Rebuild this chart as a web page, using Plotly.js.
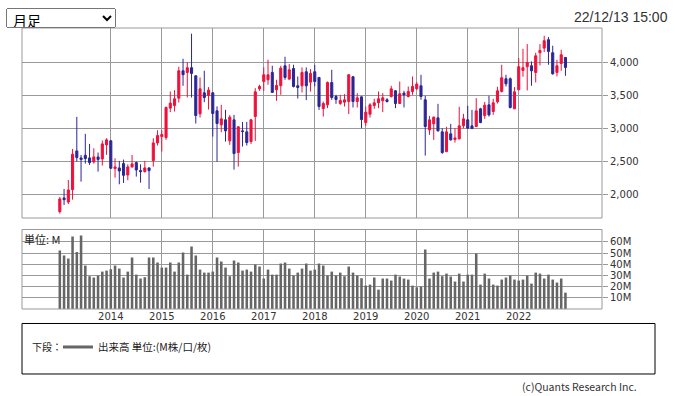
<!DOCTYPE html>
<html><head><meta charset="utf-8">
<script src="https://cdn.plot.ly/plotly-3.0.1.min.js"></script>
<style>
html,body{margin:0;padding:0;background:#fff;}
#wrap{position:relative;width:675px;height:396px;overflow:hidden;}
#chart{position:absolute;left:0;top:0;width:675px;height:396px;}
#period{position:absolute;left:6px;top:8px;width:110px;height:20px;font-size:14px;font-family:'Noto Sans CJK JP',sans-serif;z-index:5;padding:0 0 0 2px;}
</style></head><body>
<div id="wrap"><select id="period"><option>月足</option></select><div id="chart"></div></div>
<script>
// categories: monthly bars 2013-01 .. 2022-12
const months = [];
for (let y = 2013; y <= 2022; y++) for (let m = 1; m <= 12; m++) months.push(y + '-' + String(m).padStart(2, '0'));

const open = [1737,1944,1883,2070,2656,2550,2590,2550,2489,2565,2535,2747,
2808,2388,2398,2464,2292,2414,2479,2358,2343,2399,2510,2777,
2873,2858,3303,3343,3454,3868,3843,3914,3792,3217,3535,3494,
3535,3262,3050,3126,2808,3126,2631,2959,2944,2797,3176,3595,
3706,3732,3843,3580,3641,3944,3742,3903,3641,3641,3853,3696,
3853,3767,3297,3353,3691,3479,3373,3393,3403,3777,3403,3474,
3085,3212,3343,3383,3414,3429,3479,3565,3373,3530,3479,3555,
3595,3641,3429,2974,3065,3156,2944,2646,2914,2828,2838,3035,
3126,3035,3025,3292,3191,3353,3252,3398,3555,3747,3747,3292,
3580,3873,3929,3944,3843,4141,4211,4338,4141,3843,3979,4070];
const high = [1959,2080,2217,2686,3171,2595,2914,2762,2696,2631,2813,2848,
2823,2545,2505,2525,2454,2595,2494,2454,2505,2404,2848,2969,
2969,3328,3555,3575,3929,4050,3999,4429,3800,3767,3868,3621,
3545,3330,3353,3277,3201,3201,3030,3095,3095,3141,3605,3656,
3919,4035,3944,3732,3944,4080,3969,3959,3782,3919,3919,3893,
3959,3767,3403,3706,3883,3504,3504,3515,3817,3790,3530,3480,
3328,3378,3444,3555,3530,3454,3641,3575,3706,3565,3630,3782,
3696,3807,3489,3186,3176,3368,2999,3020,3065,2999,3323,3217,
3338,3277,3454,3308,3398,3489,3444,3626,3959,3807,3767,3621,
4060,4201,4272,4009,4141,4272,4398,4378,4247,4035,4186,4075];
const low = [1707,1838,1853,1919,2494,2191,2464,2444,2464,2343,2434,2595,
2383,2252,2151,2171,2212,2404,2267,2176,2328,2080,2419,2737,
2646,2823,3242,3252,3388,3641,3464,3464,3070,3161,3393,3282,
2873,2494,2939,2797,2747,2373,2419,2722,2737,2762,2808,3565,
3565,3656,3540,3414,3504,3732,3732,3616,3449,3540,3424,3555,
3631,3277,3176,3302,3429,3368,3353,3328,3212,3313,3313,2999,
3035,3161,3292,3302,3242,3388,3464,3302,3368,3313,3464,3504,
3580,3429,2585,2898,2823,2949,2611,2636,2813,2782,2830,2999,
2989,2989,3020,3075,3141,3176,3201,3373,3540,3631,3298,3292,
3580,3777,3570,3641,3691,3949,4151,3959,3808,3782,3868,3792];
const close = [1929,1919,2065,2606,2555,2525,2540,2479,2565,2525,2762,2823,
2394,2414,2353,2287,2414,2459,2368,2343,2399,2358,2777,2888,
2904,3313,3378,3444,3868,3808,3914,3828,3191,3595,3464,3575,
3222,3070,3141,2959,3166,2616,3020,2949,2782,3126,3550,3631,
3807,3807,3540,3646,3908,3767,3883,3631,3616,3843,3641,3828,
3706,3328,3373,3691,3464,3434,3419,3429,3807,3403,3459,3131,
3242,3353,3383,3444,3459,3403,3595,3373,3520,3504,3555,3631,
3666,3479,3025,3126,3166,2959,2631,2944,2823,2853,3035,3141,
2999,2994,3262,3085,3348,3201,3383,3565,3762,3671,3313,3550,
3929,3914,3994,3868,4095,4176,4323,4161,3823,3944,4110,3919];
// volume in millions
const volume = [52.2,47.8,45.1,64.8,51.0,65.7,38.8,29.3,28.1,29.9,33.4,34.3,
35.5,38.8,36.1,28.1,33.4,46.0,30.7,27.2,28.4,46.0,46.0,41.5,
37.0,37.0,41.5,33.4,41.5,50.4,30.7,55.8,47.8,35.2,32.5,32.5,
33.4,46.0,42.4,37.0,29.3,43.3,41.5,34.3,35.2,33.4,39.7,37.9,
27.2,35.2,30.7,30.7,40.6,41.5,36.1,29.9,32.5,36.1,40.6,34.3,
35.2,40.6,38.8,29.9,33.4,29.9,32.5,29.3,37.9,32.5,29.9,27.5,
20.9,21.8,28.1,17.3,27.2,27.2,25.4,30.7,29.0,27.2,26.3,20.9,
19.4,20.0,53.1,27.2,32.5,33.4,29.3,31.6,29.0,24.5,31.6,24.5,
30.7,30.7,49.6,21.8,31.6,27.2,21.8,20.9,26.3,28.1,29.9,26.3,
25.4,26.3,29.9,22.7,32.5,31.6,27.2,30.7,26.3,23.6,27.2,14.6];

const yearLabels = ['2014','2015','2016','2017','2018','2019','2020','2021','2022'];
const priceTicks = [2000, 2500, 3000, 3500, 4000];
const volumeTicks = [10, 20, 30, 40, 50, 60];

const RED = '#ee113b', BLUE = '#2b2696', GRID = '#999999', VOL = '#666666';
const CJK = "'Noto Sans CJK JP', sans-serif";
const TICKF = "'DejaVu Sans', sans-serif";

const xs = months.map((_, i) => i);
const yearPos = yearLabels.map(y => months.indexOf(y + '-01'));

const traces = [
  {type: 'candlestick', x: xs, open: open, high: high, low: low, close: close,
   xaxis: 'x', yaxis: 'y', whiskerwidth: 0, hoverinfo: 'skip', showlegend: false,
   increasing: {line: {color: RED, width: 1}, fillcolor: RED},
   decreasing: {line: {color: BLUE, width: 1}, fillcolor: BLUE}},
  {type: 'bar', x: xs, y: volume, xaxis: 'x', yaxis: 'y2', width: 0.6,
   marker: {color: VOL, line: {width: 0}}, hoverinfo: 'skip', showlegend: false}
];

const mainDom = [0.3238, 1], volDom = [0, 0.2829];
const layout = {
  width: 675, height: 396,
  margin: {l: 22, r: 73, t: 28, b: 87, pad: 0},
  paper_bgcolor: '#ffffff', plot_bgcolor: '#ffffff',
  showlegend: false, hovermode: false,
  font: {family: TICKF, size: 10, color: '#333'},
  xaxis: {range: [-8.9, 127.6], anchor: 'y2', tickvals: yearPos, ticktext: yearLabels,
          showgrid: true, gridcolor: GRID, gridwidth: 1, zeroline: false, ticks: '',
          showline: false, rangeslider: {visible: false}, fixedrange: true,
          tickfont: {family: TICKF, size: 10, color: '#333'}},
  yaxis: {domain: mainDom, range: [1641, 4515], side: 'right', tickvals: priceTicks,
          ticktext: priceTicks.map(v => v.toLocaleString('en-US')),
          ticks: 'outside', ticklen: 5, tickcolor: GRID, tickwidth: 1,
          showgrid: true, gridcolor: GRID, gridwidth: 1, zeroline: false, fixedrange: true,
          tickfont: {family: TICKF, size: 10, color: '#333'}},
  yaxis2: {domain: volDom, range: [0, 71], side: 'right', tickvals: volumeTicks,
          ticktext: volumeTicks.map(v => v + 'M'),
          ticks: 'outside', ticklen: 5, tickcolor: GRID, tickwidth: 1,
          showgrid: true, gridcolor: GRID, gridwidth: 1, zeroline: false, fixedrange: true,
          tickfont: {family: TICKF, size: 10, color: '#333'}},
  shapes: [
    {type: 'rect', xref: 'paper', yref: 'paper', x0: 0, x1: 1, y0: mainDom[0], y1: mainDom[1],
     line: {color: GRID, width: 1}, fillcolor: 'rgba(0,0,0,0)'},
    {type: 'rect', xref: 'paper', yref: 'paper', x0: 0, x1: 1, y0: volDom[0], y1: volDom[1],
     line: {color: GRID, width: 1}, fillcolor: 'rgba(0,0,0,0)'},
    {type: 'rect', xref: 'paper', yref: 'paper', x0: 0, x1: 1.0914, y0: -0.2313, y1: -0.0516,
     line: {color: '#000', width: 1}, fillcolor: 'rgba(0,0,0,0)'},
    {type: 'line', xref: 'paper', yref: 'paper', x0: 0.0707, x1: 0.1224, y0: -0.1352, y1: -0.1352,
     line: {color: VOL, width: 3}}
  ],
  annotations: [
    {xref: 'paper', yref: 'paper', x: 1.1172, y: 1.0391, xanchor: 'right', yanchor: 'middle',
     text: '22/12/13 15:00', showarrow: false,
     font: {family: "'Liberation Sans', sans-serif", size: 14, color: '#333'}},
    {xref: 'paper', yref: 'paper', x: 0.0, y: 0.2491, xanchor: 'left', yanchor: 'middle',
     text: '単位: M', showarrow: false, font: {family: CJK, size: 11, color: '#222'}},
    {xref: 'paper', yref: 'paper', x: 0.0138, y: -0.1352, xanchor: 'left', yanchor: 'middle',
     text: '下段：', showarrow: false, font: {family: CJK, size: 10, color: '#222'}},
    {xref: 'paper', yref: 'paper', x: 0.1284, y: -0.1352, xanchor: 'left', yanchor: 'middle',
     text: '出来高 単位:(M株/口/枚)', showarrow: false, font: {family: CJK, size: 10.5, color: '#222'}},
    {xref: 'paper', yref: 'paper', x: 1.0638, y: -0.2758, xanchor: 'right', yanchor: 'middle',
     text: '(c)Quants Research Inc.', showarrow: false, font: {family: CJK, size: 10.5, color: '#333'}}
  ]
};

Plotly.newPlot('chart', traces, layout, {staticPlot: true, displayModeBar: false});
</script></body></html>
